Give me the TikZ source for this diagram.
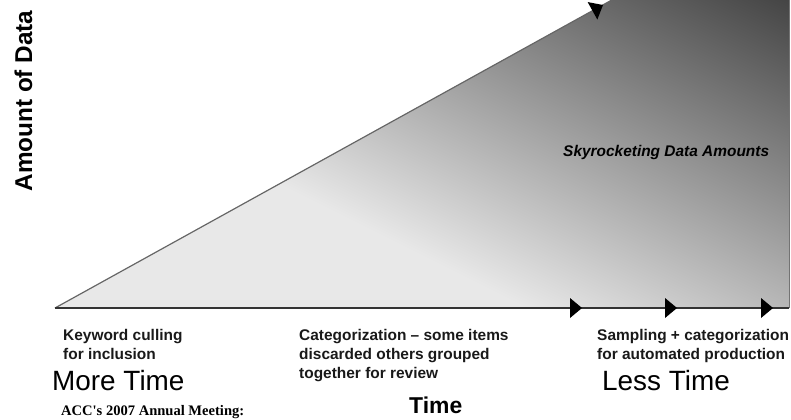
\documentclass[tikz,border=0pt]{standalone}
\usepackage{fontspec}
\setmainfont{Liberation Sans}
\newfontfamily\timesfont{Liberation Serif}
\pgfdeclarehorizontalshading{datashade}{1600bp}{color(0bp)=(black!9); color(393bp)=(black!73); color(520bp)=(black!73)}
\tikzset{
  phase/.style={anchor=north west, inner sep=0pt, align=left, text=black!90,
    font=\bfseries\fontsize{15.5}{19}\selectfont},
  span/.style={anchor=base west, inner sep=0pt, font=\fontsize{28}{30}\selectfont},
  marker/.style={fill=black}
}

\begin{document}
\begin{tikzpicture}[x=1bp, y=1bp]
\useasboundingbox (0,0) rectangle (791,419);
\coordinate (tip) at (55,111);
\coordinate (br) at (789,111);
\coordinate (tr) at (789,517);
% growing data wedge
\begin{scope}
 \clip (0,0) rectangle (791,419);
 \clip (tip) -- (br) -- (tr) -- cycle;
 \fill[black!9] (tip) -- (br) -- (tr) -- cycle;
 \node[inner sep=0pt, outer sep=0pt, rotate=63.43, anchor=west] (shade) at (149.6,299.1) {\pgfuseshading{datashade}};
\end{scope}
\begin{scope}
 \clip (0,0) rectangle (791,419);
 \draw[black!60, line width=1.2bp] (tip) -- (tr);
 \draw[black!55, line width=1bp] (br) -- (tr);
 \draw[black!80, line width=2bp] (tip) -- (br);
 \foreach \x in {582,677,773}
  \fill[marker] (\x,111) -- ++(-12,10) -- ++(0,-20) -- cycle;
 \fill[marker, shift={(603,414)}, rotate=28.94] (0,0) -- (-12,10) -- (-12,-10) -- cycle;
\end{scope}
% labels
\node[phase] (keyword) at (63,90) {Keyword culling\\for inclusion};
\node[phase] (categ) at (299,90) {Categorization -- some items\\discarded others grouped\\together for review};
\node[phase] (sampling) at (597,90) {Sampling + categorization\\for automated production};
\node[span] (more) at (52,29) {More Time};
\node[span] (less) at (602,29) {Less Time};
\node[anchor=base west, inner sep=0pt, font=\bfseries\fontsize{23}{25}\selectfont] (time) at (409,6) {Time};
\node[anchor=base west, inner sep=0pt, font=\timesfont\bfseries\fontsize{14.6}{16}\selectfont] (acc) at (61,4) {ACC's 2007 Annual Meeting:};
\node[anchor=base west, inner sep=0pt, font=\bfseries\itshape\fontsize{15.5}{18}\selectfont] (sky) at (563,263) {Skyrocketing Data Amounts};
\node[rotate=90, anchor=base, inner sep=0pt, font=\bfseries\fontsize{24.4}{26}\selectfont] (amount) at (32,318) {Amount of Data};
\end{tikzpicture}
\end{document}
